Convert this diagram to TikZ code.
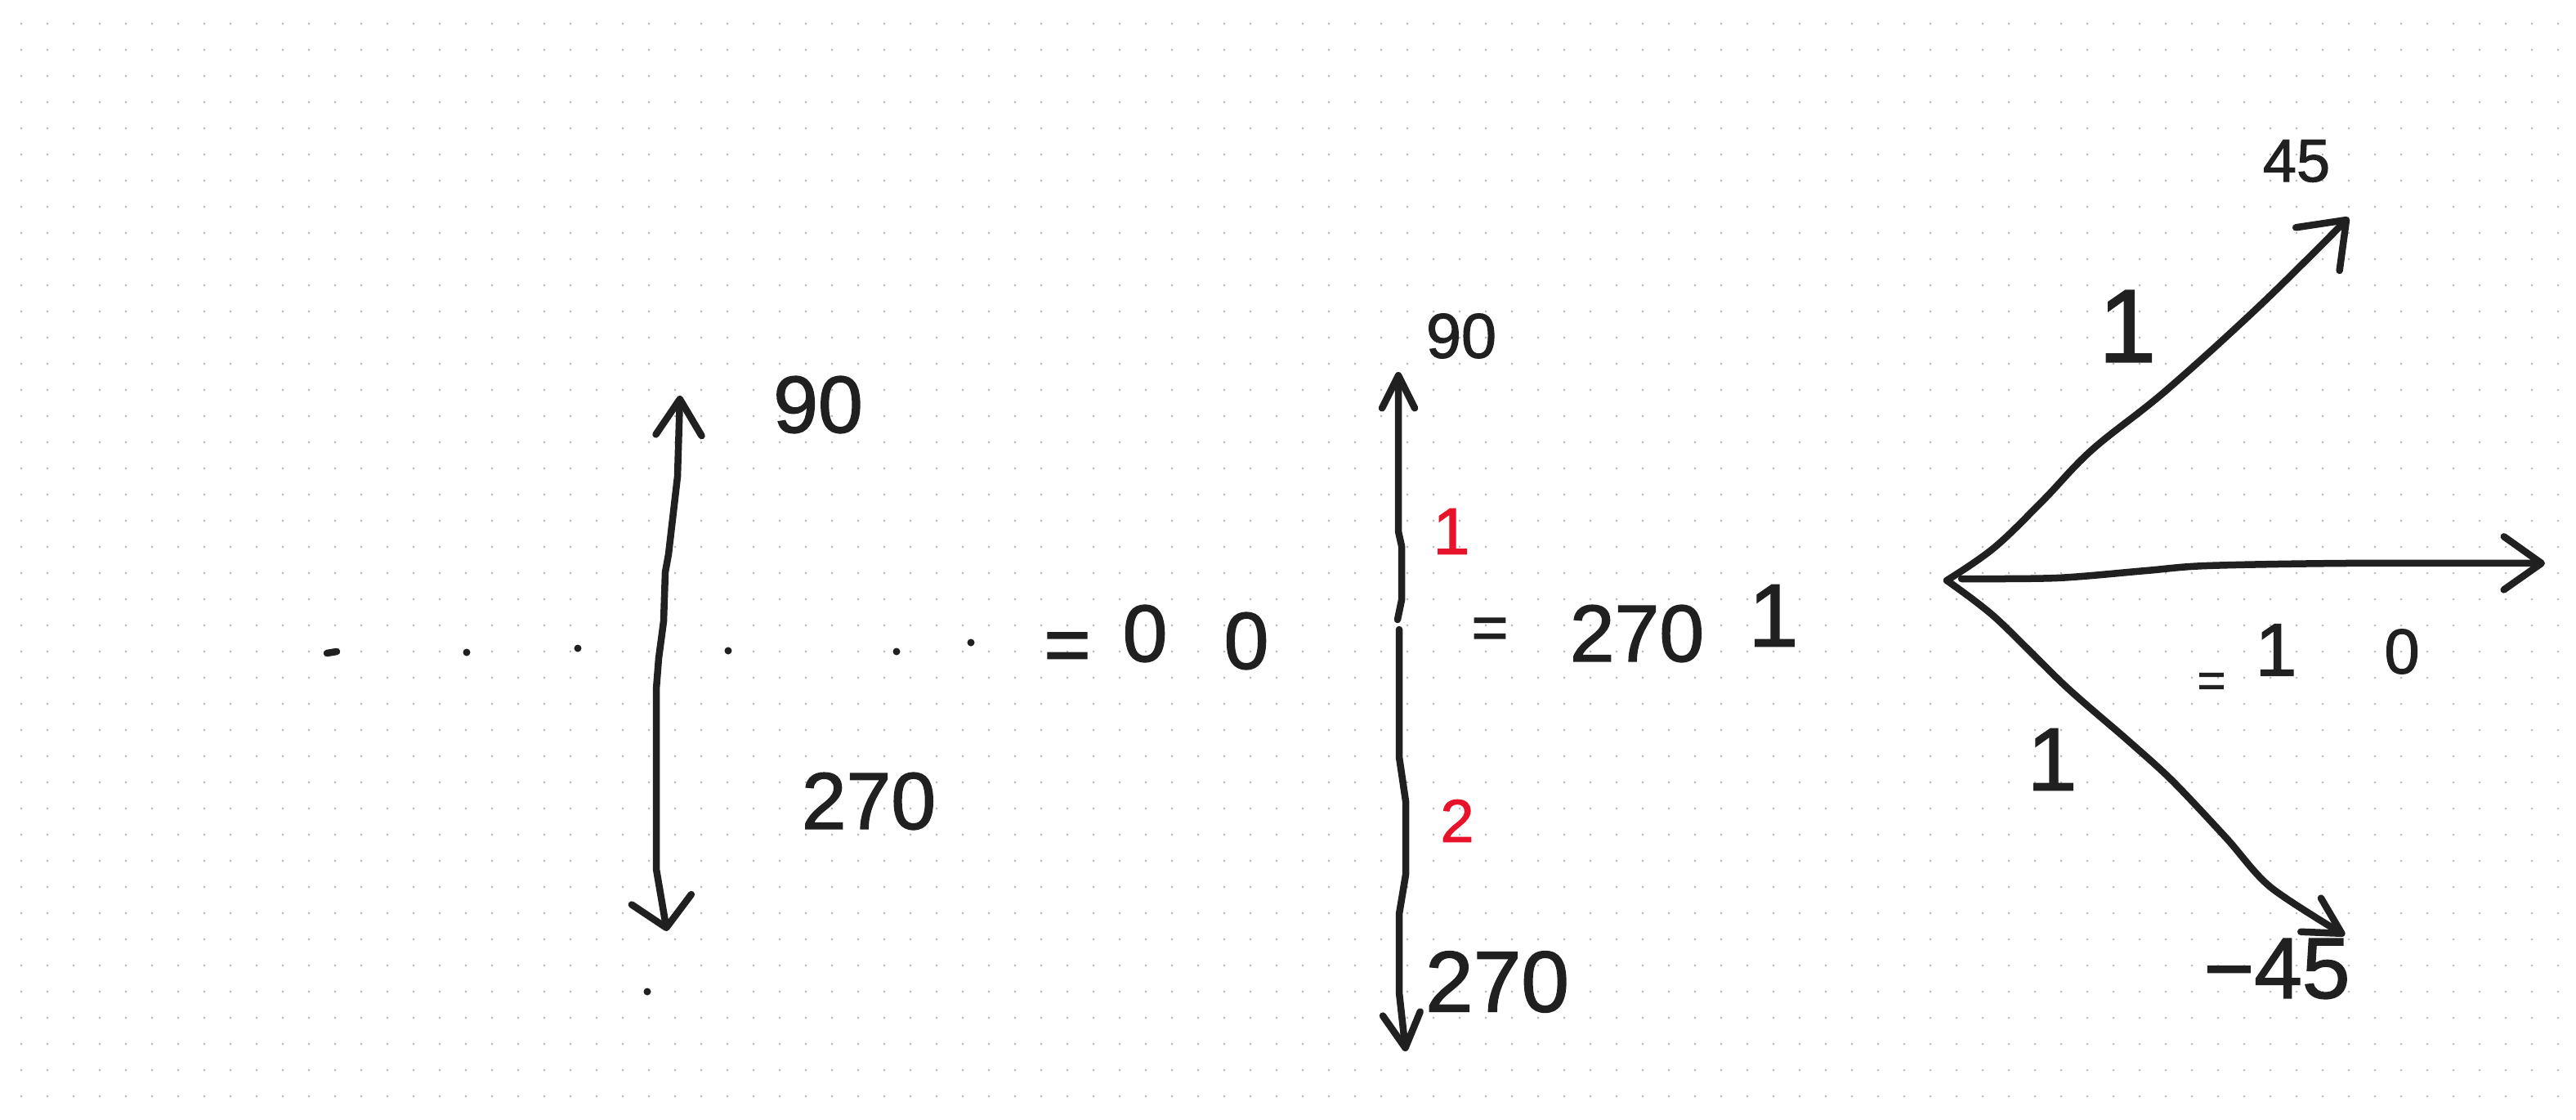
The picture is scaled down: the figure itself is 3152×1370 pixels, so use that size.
\documentclass[tikz,border=0pt]{standalone}
\usepackage{fontspec}
\setmainfont{Liberation Sans}[FakeBold=1.5]
\usetikzlibrary{arrows.meta}
\definecolor{ink}{RGB}{32,32,32}
\definecolor{redink}{RGB}{232,18,42}
\definecolor{griddot}{RGB}{178,178,178}

\begin{document}
\begin{tikzpicture}[x=0.01cm,y=-0.01cm,
    pen/.style={draw=ink,line width=0.85mm,line cap=round,line join=round},
    lbl/.style={font=\fontsize{#1}{#1}\selectfont,text=ink,inner sep=0pt},
    lbl/.default=28,
    redlbl/.style={lbl=#1,text=redink},
    redlbl/.default=23]

    \useasboundingbox (0,0) rectangle (3152,1370);
    \fill[white] (0,0) rectangle (3152,1370);
    \foreach \i in {0,...,97}
        \foreach \j in {0,...,41}
            \fill[griddot] (26+32*\i,29+32*\j) circle[radius=0.13mm];

    \coordinate (lt) at (832,484);
    \coordinate (lb) at (816,1139);
    \coordinate (mt) at (1711,455);
    \coordinate (mu) at (1710,758);
    \coordinate (ml) at (1712,770);
    \coordinate (mb) at (1720,1286);
    \coordinate (o) at (2382,710);
    \coordinate (oh) at (2400,708);
    \coordinate (t45) at (2874,266);
    \coordinate (t0) at (3114,689);
    \coordinate (tm45) at (2869,1144);

    \draw[pen,{Straight Barb[length=3.5mm,width=7.4mm,round]}-{Straight Barb[length=4.4mm,width=5.6mm,round]}]
        (lb) -- (803,1063) -- (803,843) -- (806,805) -- (812,760) -- (814,700)
        -- (818,678) -- (829,583) -- (lt);
    \draw[pen,-{Straight Barb[length=4mm,width=4mm,round]}]
        (mu) -- (1715,734) -- (1715,668) -- (1711,650) -- (1711,530) -- (mt);
    \draw[pen,-{Straight Barb[length=4.2mm,width=4.6mm,round]}]
        (ml) -- (1712,926) -- (1720,980) -- (1720,1070) -- (1712,1118) -- (1712,1214) -- (mb);

    \draw[pen,-{Straight Barb[length=5mm,width=7.5mm,round]}]
        plot[smooth,tension=0.6] coordinates {(o) (2440,670) (2500,612) (2560,550) (2650,478) (2767,372) (t45)};
    \draw[pen,-{Straight Barb[length=4.6mm,width=6.5mm,round]}]
        plot[smooth,tension=0.5] coordinates {(oh) (2517,707) (2626,698) (2700,692) (2870,689) (t0)};
    \draw[pen,-{Straight Barb[length=4.4mm,width=4.8mm,round]}]
        plot[smooth,tension=0.5] coordinates {(o) (2441,755) (2528,840) (2604,906) (2658,955) (2724,1025) (2778,1085) (tm45)};

    \foreach \p in {(571,798),(707,793),(891,796),(1097,797),(1188,786),(792,1213)}
        \fill[ink] \p circle[radius=0.45mm];
    \draw[pen] (400,799) -- (412,797);

    \node[lbl] (n90a) at (1001,495) {90};
    \node[lbl] (n270a) at (1063,980) {270};
    \node[lbl] (eqa) at (1306,798) {=};
    \node[lbl] (za) at (1401,775) {0};
    \node[lbl] (zb) at (1525,784) {0};

    \node[lbl=22] (n90b) at (1788,411) {90};
    \node[redlbl] (r1) at (1776,650) {1};
    \node[redlbl=21] (r2) at (1783,1004) {2};
    \node[lbl=22] (eqb) at (1823,775) {=};
    \node[lbl] (n270b) at (2003,775) {270};
    \node[lbl=31] (oneb) at (2170,753) {1};
    \node[lbl=30] (n270c) at (1832,1201) {270};

    \node[lbl=21] (n45) at (2810,197) {45};
    \node[lbl=36] (oneu) at (2603,399) {1};
    \node[lbl=31] (onel) at (2511,929) {1};
    \node[lbl=17] (eqc) at (2706,838) {=};
    \node[lbl=26] (onec) at (2785,795) {1};
    \node[lbl=22] (zc) at (2939,797) {0};
    \node[lbl=30] (m45) at (2786,1185) {−45};
\end{tikzpicture}
\end{document}
